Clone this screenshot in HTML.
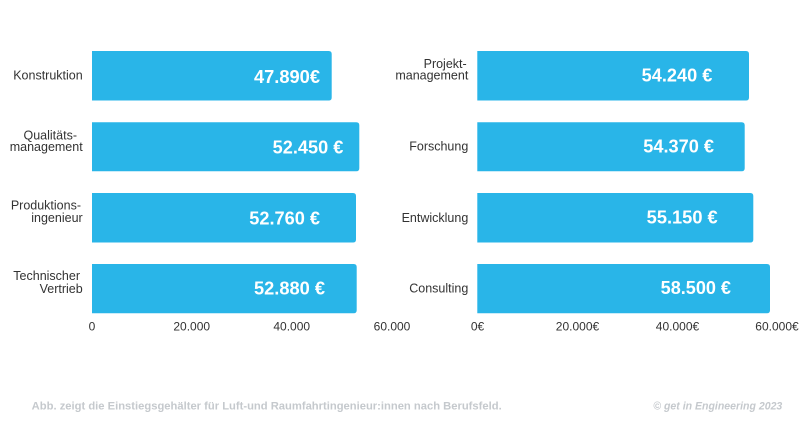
<!DOCTYPE html>
<html><head><meta charset="utf-8"><style>
html,body{margin:0;padding:0;background:#fff;}
svg{display:block;}
</style></head><body>
<svg width="806" height="423" viewBox="0 0 806 423" xmlns="http://www.w3.org/2000/svg">
<rect width="806" height="423" fill="#fff"/>
<g fill="#29b5e8">
<path d="M92 51 H328.7 Q331.7 51 331.7 54 V97.5 Q331.7 100.5 328.7 100.5 H92 Z"/>
<path d="M92 122.3 H356.3 Q359.3 122.3 359.3 125.3 V168.3 Q359.3 171.3 356.3 171.3 H92 Z"/>
<path d="M92 193 H353 Q356 193 356 196 V239.5 Q356 242.5 353 242.5 H92 Z"/>
<path d="M92 264 H353.7 Q356.7 264 356.7 267 V310.3 Q356.7 313.3 353.7 313.3 H92 Z"/>
<path d="M477.3 51 H746 Q749 51 749 54 V97.5 Q749 100.5 746 100.5 H477.3 Z"/>
<path d="M477.3 122.3 H741.7 Q744.7 122.3 744.7 125.3 V168.3 Q744.7 171.3 741.7 171.3 H477.3 Z"/>
<path d="M477.3 193 H750.3 Q753.3 193 753.3 196 V239.5 Q753.3 242.5 750.3 242.5 H477.3 Z"/>
<path d="M477.3 264 H767 Q770 264 770 267 V310.3 Q770 313.3 767 313.3 H477.3 Z"/>
</g>
<g font-family="Liberation Sans, sans-serif" font-weight="bold" font-size="18" fill="#fff">
<text x="254" y="83" textLength="66" lengthAdjust="spacingAndGlyphs">47.890€</text>
<text x="272.7" y="153.6" textLength="70.6" lengthAdjust="spacingAndGlyphs">52.450 €</text>
<text x="249.3" y="224.6" textLength="70.7" lengthAdjust="spacingAndGlyphs">52.760 €</text>
<text x="254" y="294.6" textLength="71" lengthAdjust="spacingAndGlyphs">52.880 €</text>
<text x="641.7" y="81.6" textLength="70.6" lengthAdjust="spacingAndGlyphs">54.240 €</text>
<text x="643.3" y="152.5" textLength="70.7" lengthAdjust="spacingAndGlyphs">54.370 €</text>
<text x="646.7" y="223.6" textLength="71" lengthAdjust="spacingAndGlyphs">55.150 €</text>
<text x="660.7" y="294" textLength="70.3" lengthAdjust="spacingAndGlyphs">58.500 €</text>
</g>
<g font-family="Liberation Sans, sans-serif" font-size="12.5" fill="#333" text-anchor="end">
<text x="82.7" y="79.5">Konstruktion</text>
<text x="77" y="139.5">Qualitäts-</text>
<text x="82.7" y="151.2">management</text>
<text x="81" y="209.5">Produktions-</text>
<text x="82.7" y="221.8">ingenieur</text>
<text x="80" y="280.2">Technischer</text>
<text x="82.7" y="292.8">Vertrieb</text>
<text x="466.7" y="67.8">Projekt-</text>
<text x="468.3" y="79.5">management</text>
<text x="468.3" y="150.5">Forschung</text>
<text x="468.3" y="221.8">Entwicklung</text>
<text x="468.3" y="292.5">Consulting</text>
</g>
<g font-family="Liberation Sans, sans-serif" font-size="12" fill="#333" text-anchor="middle">
<text x="92" y="330.5">0</text>
<text x="191.7" y="330.5">20.000</text>
<text x="291.7" y="330.5">40.000</text>
<text x="392" y="330.5">60.000</text>
<text x="477.5" y="330.5">0€</text>
<text x="577.5" y="330.5">20.000€</text>
<text x="677.5" y="330.5">40.000€</text>
<text x="777" y="330.5">60.000€</text>
</g>
<g font-family="Liberation Sans, sans-serif" font-size="11" font-weight="bold" fill="#c5c9cd">
<text x="31.7" y="409.5" textLength="470" lengthAdjust="spacingAndGlyphs">Abb. zeigt die Einstiegsgehälter für Luft-und Raumfahrtingenieur:innen nach Berufsfeld.</text>
<text x="653.3" y="409.5" font-style="italic" textLength="129" lengthAdjust="spacingAndGlyphs">© get in Engineering 2023</text>
</g>
</svg>
</body></html>
